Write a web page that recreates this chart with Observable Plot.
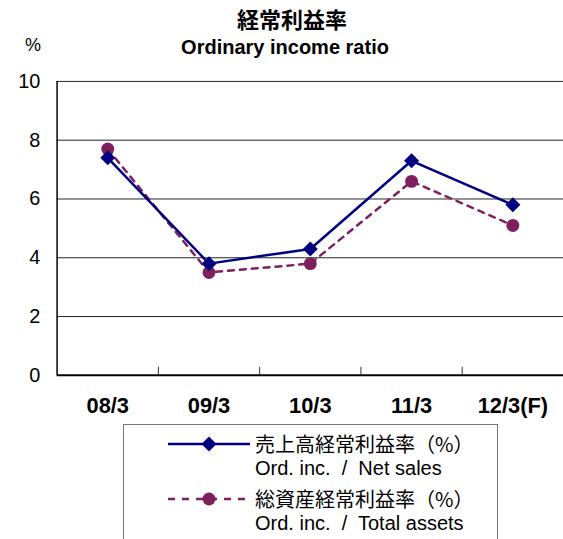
<!DOCTYPE html>
<html>
<head>
<meta charset="utf-8">
<script src="https://cdn.jsdelivr.net/npm/d3@7"></script>
<script src="https://cdn.jsdelivr.net/npm/@observablehq/plot@0.6"></script>
<style>
  html, body { margin: 0; padding: 0; background: #fff; overflow: hidden; }
  body { width: 563px; height: 539px; position: relative; font-family: "Liberation Sans", "Noto Sans CJK JP", sans-serif; color: #000; }
  #head { position: relative; height: 70px; }
  .t1 { position: absolute; left: 0; width: 584px; top: 5px; text-align: center; font-family: "Noto Sans CJK JP", sans-serif; font-weight: bold; font-size: 22px; line-height: 26px; }
  .t2 { position: absolute; left: 0; width: 570px; top: 35px; text-align: center; font-weight: bold; font-size: 20px; line-height: 24px; }
  .pct { position: absolute; left: 25px; top: 34px; font-size: 18px; line-height: 22px; }
  #chart svg { display: block; overflow: visible; }
  #legend { position: absolute; left: 123px; top: 424px; width: 375px; height: 116px; border: 1.5px solid #777; box-sizing: border-box; }
  .row { position: absolute; left: 0; height: 24px; }
  .row svg { position: absolute; left: 44px; top: 0; }
  .lab { position: absolute; left: 131px; white-space: nowrap; font-size: 20px; line-height: 24px; }
  .jp { font-family: "Noto Sans CJK JP", sans-serif; }
</style>
</head>
<body>
<div id="head">
  <div class="t1">経常利益率</div>
  <div class="t2">Ordinary income ratio</div>
  <div class="pct">%</div>
</div>
<div id="chart"></div>
<div id="legend"></div>
<script>
const categories = ["08/3", "09/3", "10/3", "11/3", "12/3(F)"];
const netSales = [7.4, 3.8, 4.3, 7.3, 5.8];
const totalAssets = [7.7, 3.5, 3.8, 6.6, 5.1];
const yTicks = [0, 2, 4, 6, 8, 10];
const seriesNames = ["売上高経常利益率（%）", "総資産経常利益率（%）"];
const seriesSub = ["Ord. inc.  /  Net sales", "Ord. inc.  /  Total assets"];
const colors = ["#000080", "#7f1f5f"];

const idx = categories.map((c, i) => i);
const rowsA = idx.map(i => ({i, v: netSales[i]}));
const rowsB = idx.map(i => ({i, v: totalAssets[i]}));
const boundaries = idx.slice(1).map(i => i - 0.5);
const xDomain = [-0.5, categories.length - 0.5];

const plot = Plot.plot({
  width: 567,
  height: 352,
  marginLeft: 57,
  marginRight: 0,
  marginTop: 11,
  marginBottom: 45,
  style: {fontFamily: "'Liberation Sans', 'Noto Sans CJK JP', sans-serif", background: "transparent", color: "#000"},
  x: {domain: xDomain, ticks: idx, tickFormat: i => categories[i], label: null},
  y: {domain: [0, 10], ticks: yTicks, label: null},
  marks: [
    Plot.ruleY(yTicks.filter(d => d > 0), {stroke: "#222", strokeWidth: 1}),
    Plot.ruleX([xDomain[0]], {stroke: "#000", strokeWidth: 1.5}),
    Plot.ruleY([0], {stroke: "#000", strokeWidth: 2}),
    Plot.ruleX(boundaries, {y1: 0, y2: 0.27, stroke: "#333", strokeWidth: 1}),
    Plot.axisY({ticks: yTicks, tickSize: 0, tickPadding: 17, fontSize: 20, label: null}),
    Plot.axisX({ticks: idx, tickFormat: i => categories[i], tickSize: 0, tickPadding: 22, fontSize: 22, fontWeight: "bold", label: null}),
    Plot.line(rowsB, {x: "i", y: "v", stroke: colors[1], strokeWidth: 2.5, strokeDasharray: "6,6"}),
    Plot.dot(rowsB, {x: "i", y: "v", r: 6.5, fill: colors[1], stroke: "none"}),
    Plot.line(rowsA, {x: "i", y: "v", stroke: colors[0], strokeWidth: 2.5}),
    Plot.dot(rowsA, {x: "i", y: "v", r: 6.8, symbol: "diamond2", fill: colors[0], stroke: "none"})
  ]
});
document.getElementById("chart").appendChild(plot);

// legend
const legend = document.getElementById("legend");
const rowTops = [7, 62];
seriesNames.forEach((name, k) => {
  const row = document.createElement("div");
  row.className = "row";
  row.style.top = rowTops[k] + "px";
  const swatch = k === 0
    ? `<svg width="84" height="24"><line x1="0" y1="12" x2="82" y2="12" stroke="${colors[0]}" stroke-width="2.5"/><path d="M41,4.5L48.5,12L41,19.5L33.5,12Z" fill="${colors[0]}"/></svg>`
    : `<svg width="84" height="24"><line x1="0" y1="12" x2="84" y2="12" stroke="${colors[1]}" stroke-width="2.5" stroke-dasharray="7,7"/><circle cx="41" cy="12" r="6.5" fill="${colors[1]}"/></svg>`;
  row.innerHTML = swatch +
    `<div class="lab jp" style="top:0">${name}</div>` +
    `<div class="lab" style="top:24px; white-space:pre">${seriesSub[k]}</div>`;
  legend.appendChild(row);
});
</script>
</body>
</html>
